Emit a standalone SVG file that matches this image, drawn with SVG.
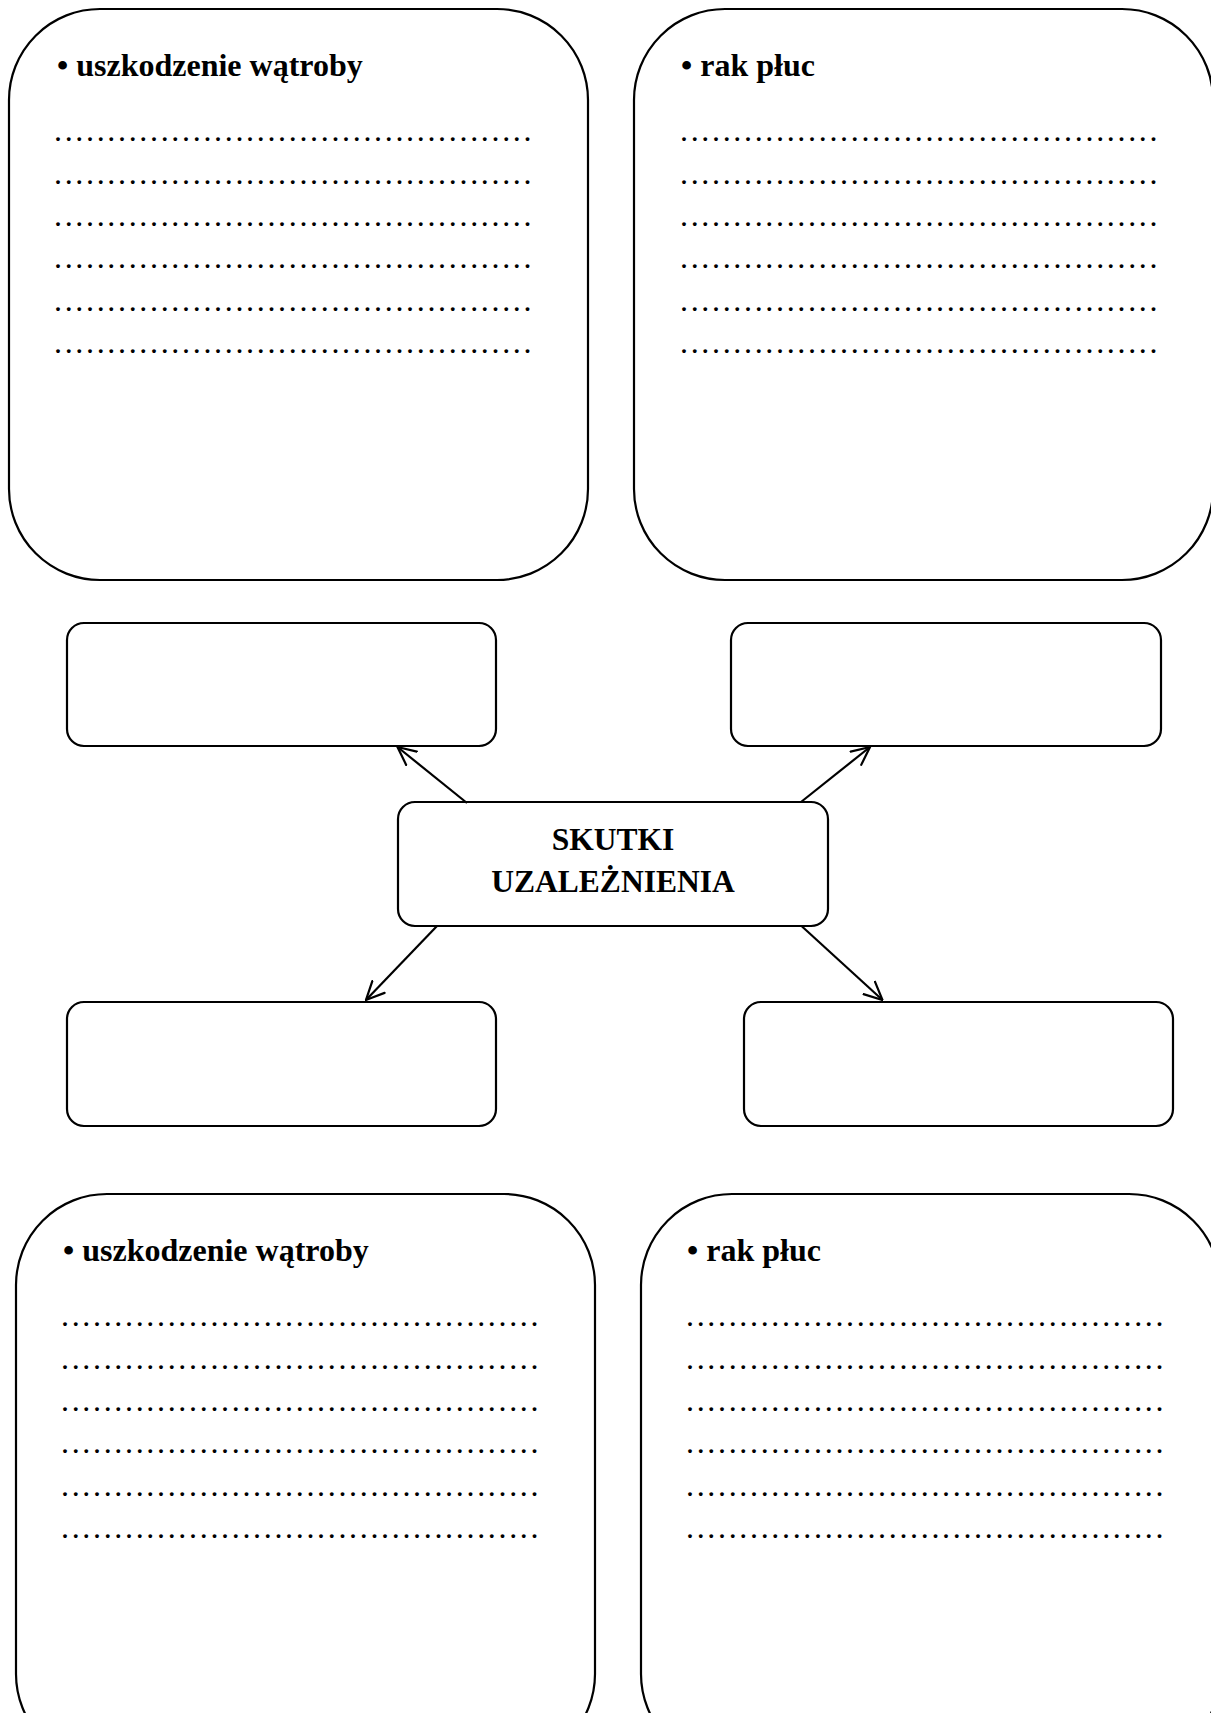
<svg xmlns="http://www.w3.org/2000/svg" width="1211" height="1713" viewBox="0 0 1211 1713">
<style>
.box{fill:#fff;stroke:#000;stroke-width:2.2}
.title{font-family:"Liberation Serif","Times New Roman",serif;font-weight:bold;font-size:32px;fill:#000}
.dots{font-family:"Liberation Serif","Times New Roman",serif;font-size:32px;letter-spacing:2.67px;fill:#000}
.center{font-family:"Liberation Serif","Times New Roman",serif;font-weight:bold;font-size:31.5px;fill:#000;text-anchor:middle}
.conn{stroke:#000;stroke-width:2.2;fill:none;marker-end:url(#arr)}
</style>
<defs>
<marker id="arr" viewBox="0 0 20 20" refX="19" refY="10" markerWidth="20" markerHeight="20" markerUnits="userSpaceOnUse" orient="auto">
<path d="M1,1.5 L19,10 L1,18.5" fill="none" stroke="#000" stroke-width="2.2" stroke-linecap="round"/>
</marker>
</defs>
<rect width="1211" height="1713" fill="#fff"/>
<g id="box-top-left">
<rect class="box" x="9" y="9" width="579" height="571" rx="91" ry="91"/>
<text class="title" x="57" y="76">• uszkodzenie wątroby</text>
<text class="dots" x="54" y="141">.............................................</text>
<text class="dots" x="54" y="183.5">.............................................</text>
<text class="dots" x="54" y="226">.............................................</text>
<text class="dots" x="54" y="268">.............................................</text>
<text class="dots" x="54" y="310.5">.............................................</text>
<text class="dots" x="54" y="353">.............................................</text>
</g>
<g id="box-top-right">
<rect class="box" x="634" y="9" width="579" height="571" rx="91" ry="91"/>
<text class="title" x="681" y="76">• rak płuc</text>
<text class="dots" x="680" y="141">.............................................</text>
<text class="dots" x="680" y="183.5">.............................................</text>
<text class="dots" x="680" y="226">.............................................</text>
<text class="dots" x="680" y="268">.............................................</text>
<text class="dots" x="680" y="310.5">.............................................</text>
<text class="dots" x="680" y="353">.............................................</text>
</g>
<g id="small-top-left"><rect class="box" x="67" y="623" width="429" height="123" rx="17" ry="17"/></g>
<g id="small-top-right"><rect class="box" x="731" y="623" width="430" height="123" rx="17" ry="17"/></g>
<g id="center">
<rect class="box" x="398" y="802" width="430" height="124" rx="17" ry="17"/>
<text class="center" x="613" y="850">SKUTKI</text>
<text class="center" x="613" y="892">UZALEŻNIENIA</text>
</g>
<g id="small-bottom-left"><rect class="box" x="67" y="1002" width="429" height="124" rx="17" ry="17"/></g>
<g id="small-bottom-right"><rect class="box" x="744" y="1002" width="429" height="124" rx="17" ry="17"/></g>
<g id="box-bottom-left">
<rect class="box" x="16" y="1194" width="579" height="571" rx="91" ry="91"/>
<text class="title" x="63" y="1261">• uszkodzenie wątroby</text>
<text class="dots" x="61" y="1326">.............................................</text>
<text class="dots" x="61" y="1368.5">.............................................</text>
<text class="dots" x="61" y="1411">.............................................</text>
<text class="dots" x="61" y="1453">.............................................</text>
<text class="dots" x="61" y="1495.5">.............................................</text>
<text class="dots" x="61" y="1538">.............................................</text>
</g>
<g id="box-bottom-right">
<rect class="box" x="641" y="1194" width="579" height="571" rx="91" ry="91"/>
<text class="title" x="687" y="1261">• rak płuc</text>
<text class="dots" x="686" y="1326">.............................................</text>
<text class="dots" x="686" y="1368.5">.............................................</text>
<text class="dots" x="686" y="1411">.............................................</text>
<text class="dots" x="686" y="1453">.............................................</text>
<text class="dots" x="686" y="1495.5">.............................................</text>
<text class="dots" x="686" y="1538">.............................................</text>
</g>
<g id="connectors">
<line class="conn" x1="467" y1="803" x2="397.5" y2="747"/>
<line class="conn" x1="801" y1="802" x2="870" y2="747"/>
<line class="conn" x1="437" y1="926" x2="366" y2="1000"/>
<line class="conn" x1="801.5" y1="926" x2="882.5" y2="1000"/>
</g>
</svg>
